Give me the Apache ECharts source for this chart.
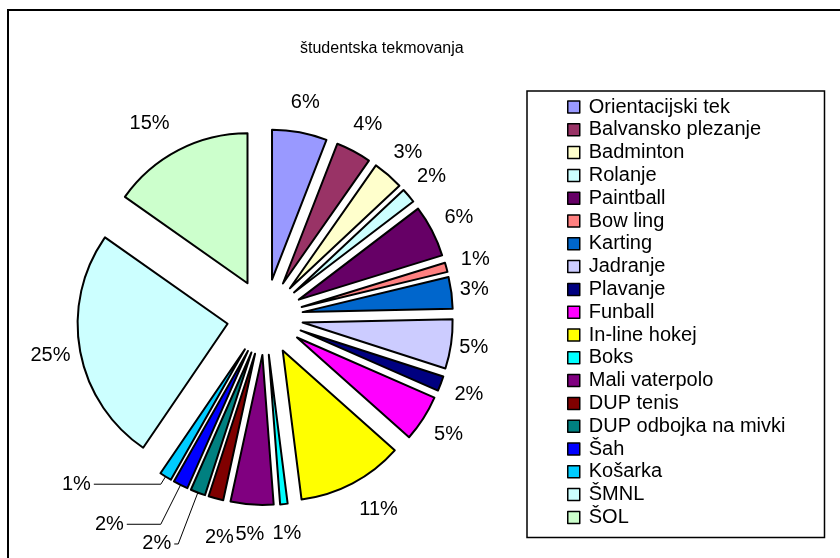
<!DOCTYPE html>
<html>
<head>
<meta charset="utf-8">
<title>študentska tekmovanja</title>
<script src="https://cdn.jsdelivr.net/npm/echarts@6/dist/echarts.min.js"></script>
<style>
  html, body { margin: 0; padding: 0; background: #fff; }
  #chart { width: 840px; height: 558px; }
</style>
</head>
<body>
<div id="chart"></div>
<script>
// podatki (deleži v %)
var categories = ['Orientacijski tek', 'Balvansko plezanje', 'Badminton', 'Rolanje', 'Paintball', 'Bow ling',
  'Karting', 'Jadranje', 'Plavanje', 'Funball', 'In-line hokej', 'Boks', 'Mali vaterpolo', 'DUP tenis',
  'DUP odbojka na mivki', 'Šah', 'Košarka', 'ŠMNL', 'ŠOL'];
var values = [5.9, 3.8, 3.3, 1.6, 5.6, 1.0, 3.4, 5.3, 1.6, 5.0, 11.4, 0.8, 4.6, 1.6, 1.6, 1.6, 1.3, 25.2, 15.2];
var colors = ['#9999ff', '#993366', '#ffffcc', '#ccffff', '#660066', '#ff8080', '#0066cc', '#ccccff', '#000080',
  '#ff00ff', '#ffff00', '#00ffff', '#800080', '#800000', '#008080', '#0000ff', '#00ccff', '#ccffff', '#ccffcc'];

// oznake s črto (dolžina ven, dolžina vodoravno)
var leaderLines = {
  'DUP odbojka na mivki': [55, 4],
  'Šah': [44, 34],
  'Košarka': [9, 67]
};
// premik ostalih oznak
var labelLen = {
  'Karting': [23, 0],
  'Jadranje': [23, 0],
  'In-line hokej': [30, 12],
  'DUP tenis': [40, -14],
  'ŠOL': [30, 15]
};

var font = 'Liberation Sans, Arial, sans-serif';

var pieData = categories.map(function (name, i) {
  var item = { name: name, value: values[i], selected: true, itemStyle: { color: colors[i] } };
  if (leaderLines[name]) {
    item.labelLine = { show: true, length: leaderLines[name][0], length2: leaderLines[name][1] };
    item.label = { distanceToLabelLine: 3 };
  } else if (labelLen[name]) {
    item.labelLine = { length: labelLen[name][0], length2: labelLen[name][1] };
  }
  return item;
});

var myChart = echarts.init(document.getElementById('chart'));
myChart.setOption({
  animation: false,
  graphic: [{
    type: 'rect', silent: true, z: -10,
    shape: { x: 8, y: 10, width: 900, height: 600 },
    style: { fill: '#fff', stroke: '#000', lineWidth: 2 }
  }],
  title: {
    text: 'študentska tekmovanja',
    left: 295,
    top: 36,
    textStyle: { fontFamily: font, fontSize: 16, fontWeight: 'normal', color: '#000' }
  },
  legend: {
    orient: 'vertical',
    left: 527,
    top: 91,
    padding: [6, 39, 10, 40],
    itemWidth: 12,
    itemHeight: 12,
    itemGap: 2.8,
    icon: 'rect',
    selectedMode: false,
    borderColor: '#000',
    borderWidth: 1.5,
    backgroundColor: '#fff',
    itemStyle: { borderColor: '#000', borderWidth: 1.5 },
    textStyle: { fontFamily: font, fontSize: 20, lineHeight: 20, color: '#000', padding: [0, 0, 0, 4] },
    data: categories
  },
  series: [{
    type: 'pie',
    center: [265, 317],
    radius: 150,
    startAngle: 90,
    clockwise: true,
    selectedMode: 'multiple',
    selectedOffset: 38,
    avoidLabelOverlap: false,
    minShowLabelAngle: 0,
    itemStyle: { borderColor: '#000', borderWidth: 2 },
    emphasis: { disabled: true },
    label: {
      show: true,
      position: 'outside',
      distanceToLabelLine: 0,
      fontFamily: font,
      fontSize: 20,
      color: '#000',
      formatter: function (p) { return Math.round(p.percent) + '%'; }
    },
    labelLine: { show: false, length: 30, length2: 0, lineStyle: { color: '#000', width: 1 } },
    labelLayout: function (p) {
      if (leaderLines[categories[p.dataIndex]]) return {};
      return { align: 'center' };
    },
    data: pieData
  }]
});
</script>
</body>
</html>
